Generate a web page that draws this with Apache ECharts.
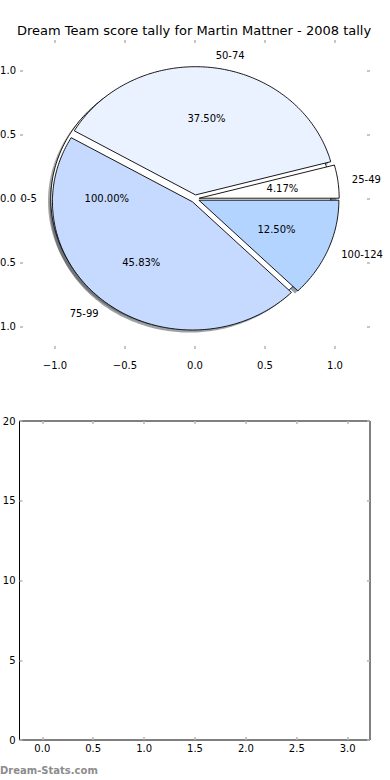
<!DOCTYPE html>
<html><head><meta charset="utf-8">
<script src="https://cdn.jsdelivr.net/npm/echarts@6/dist/echarts.min.js"></script>
<style>html,body{margin:0;padding:0;background:#fff;} #c{width:390px;height:780px;}</style>
</head><body><div id="c"></div>
<script>
const chartTitle = 'Dream Team score tally for Martin Mattner - 2008 tally';
const categories = ['25-49', '50-74', '75-99', '100-124'];
const counts = [1, 9, 11, 3];
const colors = ['#ffffff', '#eaf1ff', '#c6d9fe', '#b3d4ff'];
const baseCategory = '0-5';
const basePercent = 100;
const baseColor = '#ffffff';
const explode = 0.03;
const pieXTicks = [-1, -0.5, 0, 0.5, 1];
const pieYTicks = [-1, -0.5, 0, 0.5, 1];
const barXTicks = [0, 0.5, 1, 1.5, 2, 2.5, 3];
const barYTicks = [0, 5, 10, 15, 20];
const watermark = 'Dream-Stats.com';

const FONT = 'DejaVu Sans';
const TICK = '#b4b4b4';

const total = counts.reduce((a, b) => a + b, 0);
const wedges = [{ name: baseCategory, pct: basePercent, t1: 0, t2: 360, color: baseColor, full: true }];
let cum = 0;
counts.forEach((c, i) => {
  const t1 = 360 * cum / total; cum += c; const t2 = 360 * cum / total;
  wedges.push({ name: categories[i], pct: 100 * c / total, t1, t2, color: colors[i], full: false });
});

function center(w) {
  const mid = (w.t1 + w.t2) / 2 * Math.PI / 180;
  return [explode * Math.cos(mid), explode * Math.sin(mid), mid];
}
function wedgePoints(w, dx, dy, api) {
  const [cx0, cy0] = center(w);
  const cx = cx0 + dx, cy = cy0 + dy;
  const pts = [];
  if (!w.full) pts.push(api.coord([cx, cy]));
  const n = Math.max(8, Math.ceil(w.t2 - w.t1));
  for (let k = 0; k <= n; k++) {
    const t = (w.t1 + (w.t2 - w.t1) * k / n) * Math.PI / 180;
    pts.push(api.coord([cx + Math.cos(t), cy + Math.sin(t)]));
  }
  return pts;
}
function shadowColor(hex) {
  const r = parseInt(hex.slice(1, 3), 16), g = parseInt(hex.slice(3, 5), 16), b = parseInt(hex.slice(5, 7), 16);
  return 'rgba(' + Math.round(r * 0.3) + ',' + Math.round(g * 0.3) + ',' + Math.round(b * 0.3) + ',0.5)';
}
const fmt1 = v => (v < 0 ? '\u2212' : '') + Math.abs(v).toFixed(1);

const wedgeData = wedges.map((w, i) => [0, 0, i]);

function tickAxis(gridIndex, position, min, max, ticks, label) {
  return {
    type: 'value', gridIndex, position, min, max,
    axisLine: { show: false, onZero: false },
    splitLine: { show: false },
    axisTick: { show: true, inside: true, length: 3, customValues: ticks, lineStyle: { color: TICK, width: 1.5 } },
    axisLabel: label ? Object.assign({ show: true, customValues: ticks, fontSize: 10, fontFamily: FONT, color: '#000' }, label) : { show: false }
  };
}

const option = {
  animation: false,
  backgroundColor: '#fff',
  textStyle: { fontFamily: FONT },
  grid: [
    { left: 20, right: 20, top: 40, height: 309, outerBoundsMode: 'none', containLabel: false },
    { left: 19.5, right: 20, top: 421, height: 319, outerBoundsMode: 'none', containLabel: false,
      show: true, borderColor: '#000', borderWidth: 1, backgroundColor: 'transparent' }
  ],
  xAxis: [
    tickAxis(0, 'bottom', -1.25, 1.25, pieXTicks, { formatter: fmt1, margin: 11 }),
    tickAxis(0, 'top', -1.25, 1.25, pieXTicks, null),
    tickAxis(1, 'bottom', -0.224, 3.219, barXTicks, { formatter: fmt1, margin: 3 }),
    tickAxis(1, 'top', -0.224, 3.219, barXTicks, null)
  ],
  yAxis: [
    tickAxis(0, 'left', -1.172, 1.238, pieYTicks, { formatter: fmt1, margin: 4 }),
    tickAxis(0, 'right', -1.172, 1.238, pieYTicks, null),
    tickAxis(1, 'left', 0, 20, barYTicks, { formatter: v => String(v), margin: 4 }),
    tickAxis(1, 'right', 0, 20, barYTicks, null)
  ],
  series: [
    {
      type: 'custom', name: 'shadow', xAxisIndex: 0, yAxisIndex: 0, z: 1, clip: false,
      data: wedgeData, encode: { x: 0, y: 1 },
      renderItem: (params, api) => {
        const w = wedges[api.value(2)];
        return { type: 'polygon', shape: { points: wedgePoints(w, -0.02, -0.02, api) },
          style: { fill: shadowColor(w.color), stroke: 'none' } };
      }
    },
    {
      type: 'custom', name: 'wedges', xAxisIndex: 0, yAxisIndex: 0, z: 2, clip: false,
      data: wedgeData, encode: { x: 0, y: 1 },
      renderItem: (params, api) => {
        const w = wedges[api.value(2)];
        return { type: 'polygon', shape: { points: wedgePoints(w, 0, 0, api) },
          style: { fill: w.color, stroke: '#000', lineWidth: 0.9, lineJoin: 'miter' } };
      }
    },
    {
      type: 'custom', name: 'labels', xAxisIndex: 0, yAxisIndex: 0, z: 3, clip: false,
      data: wedgeData, encode: { x: 0, y: 1 },
      renderItem: (params, api) => {
        const w = wedges[api.value(2)];
        const [cx, cy, mid] = center(w);
        const lx = cx + 1.1 * Math.cos(mid), ly = cy + 1.1 * Math.sin(mid);
        const px = cx + 0.6 * Math.cos(mid), py = cy + 0.6 * Math.sin(mid);
        const lp = api.coord([lx, ly]), pp = api.coord([px, py]);
        return { type: 'group', children: [
          { type: 'text', x: lp[0], y: lp[1], style: { text: w.name, align: lx > 0 ? 'left' : 'right', verticalAlign: 'middle', fontSize: 10, fontFamily: FONT, fill: '#000' } },
          { type: 'text', x: pp[0], y: pp[1], style: { text: w.pct.toFixed(2) + '%', align: 'center', verticalAlign: 'middle', fontSize: 10, fontFamily: FONT, fill: '#000' } }
        ] };
      }
    }
  ],
  graphic: [
    { type: 'text', x: 194, y: 30, style: { text: chartTitle, align: 'center', verticalAlign: 'middle', fontSize: 13, fontFamily: FONT, fill: '#000' } },
    { type: 'text', x: 0, y: 770, style: { text: watermark, align: 'left', verticalAlign: 'middle', fontSize: 10, fontWeight: 'bold', fontFamily: FONT, fill: '#8c8c8c' } }
  ]
};

const chart = echarts.init(document.getElementById('c'), null, { renderer: 'svg', width: 390, height: 780 });
chart.setOption(option);
</script>
</body></html>
